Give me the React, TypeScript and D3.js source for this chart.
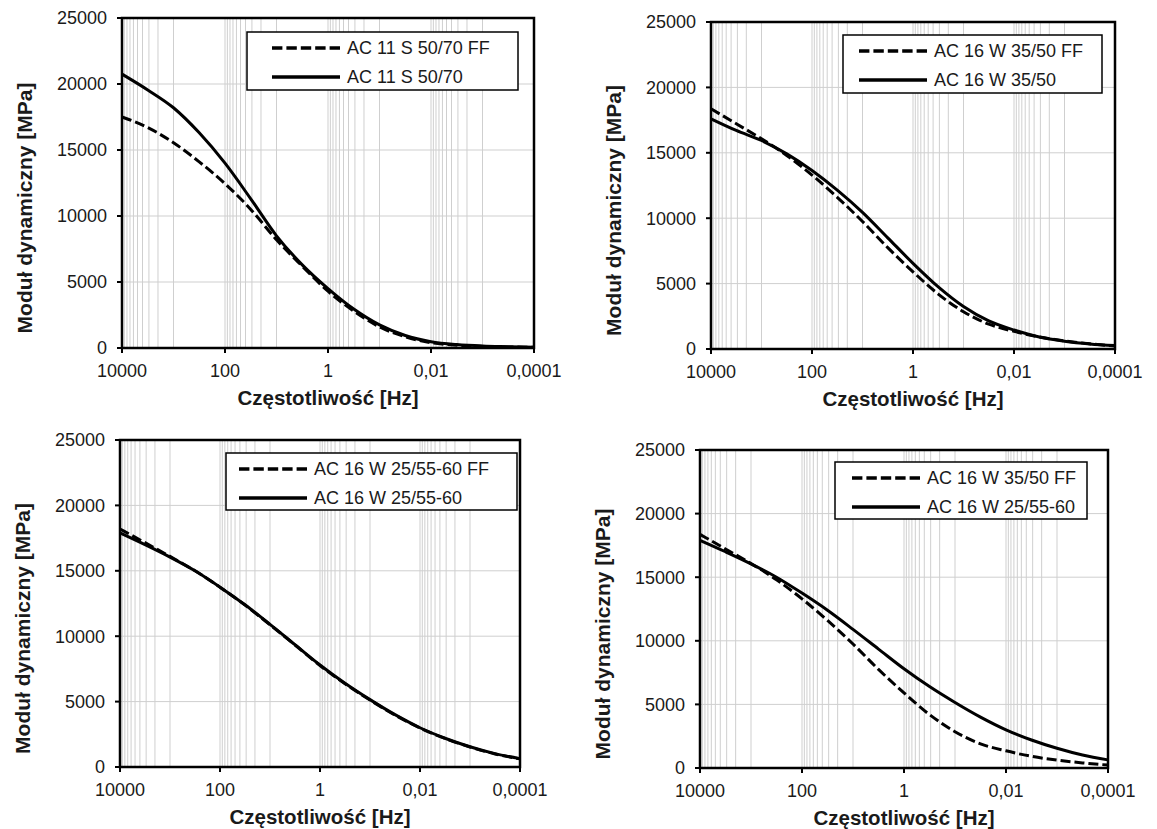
import React from 'react';
import * as d3 from 'd3';

// frequencies in Hz, half-decade steps from 10 kHz down to 0.1 mHz
const freqs = [10000, 3162, 1000, 316.2, 100, 31.62, 10, 3.162, 1, 0.3162, 0.1, 0.03162, 0.01, 0.003162, 0.001, 0.0003162, 0.0001];

const ac11FF = [17500, 16700, 15550, 14100, 12450, 10500, 8200, 6200, 4300, 2800, 1600, 850, 400, 210, 120, 80, 50];
const ac11 = [20750, 19550, 18200, 16300, 14000, 11300, 8500, 6300, 4500, 2950, 1750, 950, 480, 260, 150, 100, 60];
const ac16_35FF = [18370, 17220, 16070, 14800, 13300, 11600, 9750, 7750, 5900, 4200, 2850, 1900, 1350, 920, 620, 400, 230];
const ac16_35 = [17600, 16710, 15940, 14920, 13650, 12150, 10450, 8500, 6550, 4750, 3250, 2150, 1450, 920, 600, 390, 260];
const ac16_25FF = [18200, 17150, 16100, 15000, 13750, 12380, 10880, 9330, 7760, 6360, 5120, 3970, 2980, 2180, 1530, 1000, 620];
const ac16_25 = [17900, 17000, 16050, 15000, 13750, 12400, 10900, 9350, 7800, 6400, 5150, 4000, 3000, 2200, 1550, 1020, 640];

const xTicks = [10000, 100, 1, 0.01, 0.0001];
const xTickLabels = ['10000', '100', '1', '0,01', '0,0001'];
const yTicks = [0, 5000, 10000, 15000, 20000, 25000];

const FONT = '"Liberation Sans", Arial, sans-serif';

// minor gridlines: 1..9 x 10^(odd) between the labelled decades
const minorGrid: number[] = [];
[1000, 10, 0.1, 0.001].forEach((base) => {
  d3.range(1, 10).forEach((k) => minorGrid.push(k * base));
});

const panels = [
  {
    x: 122, y: 18, w: 412, h: 330,
    series: [
      { name: 'AC 11 S 50/70 FF', values: ac11FF, dashed: true },
      { name: 'AC 11 S 50/70', values: ac11, dashed: false },
    ],
    legend: { x: 247, y: 32, w: 271, h: 58, lineX: 25 },
  },
  {
    x: 711, y: 22, w: 404, h: 327,
    series: [
      { name: 'AC 16 W 35/50 FF', values: ac16_35FF, dashed: true },
      { name: 'AC 16 W 35/50', values: ac16_35, dashed: false },
    ],
    legend: { x: 843, y: 35, w: 259, h: 58, lineX: 16 },
  },
  {
    x: 120, y: 440, w: 400, h: 327,
    series: [
      { name: 'AC 16 W 25/55-60 FF', values: ac16_25FF, dashed: true },
      { name: 'AC 16 W 25/55-60', values: ac16_25, dashed: false },
    ],
    legend: { x: 226, y: 453, w: 291, h: 57, lineX: 13 },
  },
  {
    x: 700, y: 450, w: 408, h: 318,
    series: [
      { name: 'AC 16 W 35/50 FF', values: ac16_35FF, dashed: true },
      { name: 'AC 16 W 25/55-60', values: ac16_25, dashed: false },
    ],
    legend: { x: 835, y: 462, w: 252, h: 57, lineX: 17 },
  },
];

type PanelProps = (typeof panels)[number];

const Panel = ({ x, y, w, h, series, legend }: PanelProps) => {
  const xs = d3.scaleLog().domain([10000, 0.0001]).range([0, w]);
  const ys = d3.scaleLinear().domain([0, 25000]).range([h, 0]);
  const line = d3
    .line<number>()
    .x((d, i) => xs(freqs[i]))
    .y((d) => ys(d))
    .curve(d3.curveMonotoneX);

  return (
    <g transform={`translate(${x},${y})`} fontFamily={FONT}>
      {/* grid */}
      <g stroke="#cfcfcf" strokeWidth={1}>
        {yTicks.slice(1, -1).map((t) => (
          <line key={'h' + t} x1={0} x2={w} y1={ys(t)} y2={ys(t)} />
        ))}
        {minorGrid.concat(xTicks.slice(1, -1)).map((t) => (
          <line key={'v' + t} x1={xs(t)} x2={xs(t)} y1={0} y2={h} />
        ))}
      </g>

      {/* curves */}
      {series.map((s) => (
        <path
          key={s.name}
          d={line(s.values) || ''}
          fill="none"
          stroke="#000"
          strokeWidth={3}
          strokeDasharray={s.dashed ? '10,4' : undefined}
        />
      ))}

      {/* frame */}
      <rect x={0} y={0} width={w} height={h} fill="none" stroke="#000" strokeWidth={2.5} />

      {/* y axis */}
      {yTicks.map((t) => (
        <g key={'yt' + t}>
          <line x1={-5} x2={0} y1={ys(t)} y2={ys(t)} stroke="#000" strokeWidth={2} />
          <text x={-15} y={ys(t)} dy="0.35em" textAnchor="end" fontSize={18} fill="#1a1a1a">
            {t}
          </text>
        </g>
      ))}

      {/* x axis */}
      {xTicks.map((t, i) => (
        <g key={'xt' + t}>
          <line x1={xs(t)} x2={xs(t)} y1={h} y2={h + 5} stroke="#000" strokeWidth={2} />
          <text x={xs(t)} y={h + 29} textAnchor="middle" fontSize={18} fill="#1a1a1a">
            {xTickLabels[i]}
          </text>
        </g>
      ))}

      <text x={w / 2} y={h + 57} textAnchor="middle" fontSize={20.5} fontWeight="bold" fill="#1a1a1a">
        Częstotliwość [Hz]
      </text>
      <text
        transform={`translate(${-97},${h / 2 + 25}) rotate(-90)`}
        textAnchor="middle"
        dy="0.35em"
        fontSize={21}
        fontWeight="bold"
        fill="#1a1a1a"
      >
        Moduł dynamiczny [MPa]
      </text>

      {/* legend */}
      <g transform={`translate(${legend.x - x},${legend.y - y})`}>
        <rect width={legend.w} height={legend.h} fill="#fff" stroke="#000" strokeWidth={1.5} />
        {series.map((s, i) => (
          <g key={'lg' + s.name} transform={`translate(0,${16 + i * 29})`}>
            <line
              x1={legend.lineX}
              x2={legend.lineX + 68}
              y1={0}
              y2={0}
              stroke="#000"
              strokeWidth={3.5}
              strokeDasharray={s.dashed ? '10.4,4' : undefined}
            />
            <text x={legend.lineX + 75} y={0} dy="0.35em" fontSize={18} fill="#1a1a1a">
              {s.name}
            </text>
          </g>
        ))}
      </g>
    </g>
  );
};

const App = () => (
  <svg
    width={1157}
    height={829}
    style={{ position: 'absolute', left: 0, top: 0, background: '#fff' }}
  >
    <rect width={1157} height={829} fill="#fff" />
    {panels.map((p, i) => (
      <Panel key={i} {...p} />
    ))}
  </svg>
);

export default App;
